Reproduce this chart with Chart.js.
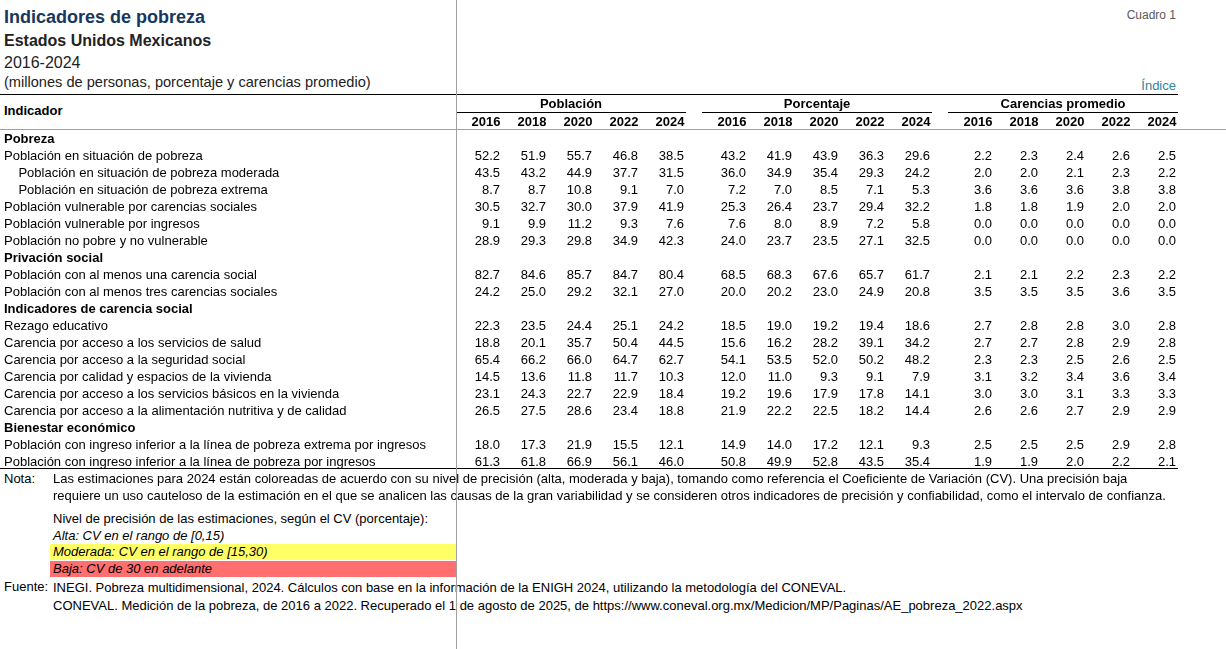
<!DOCTYPE html>
<html><head><meta charset="utf-8">
<script src="https://cdn.jsdelivr.net/npm/chart.js@4.4.1/dist/chart.umd.min.js"></script>
<style>
html,body{margin:0;padding:0;background:#fff;width:1226px;height:649px;overflow:hidden;font-family:"Liberation Sans",Arial,sans-serif;}
.t{position:absolute;white-space:nowrap;line-height:1.2;color:#000;}
.n{font-size:13px;}
.ln{position:absolute;}
canvas{position:absolute;}
</style></head><body>

<div class="t" style="left:4px;top:7px;font-size:18px;font-weight:bold;color:#17375e;">Indicadores de pobreza</div>
<div class="t" style="left:4px;top:30.5px;font-size:16px;font-weight:bold;color:#222;">Estados Unidos Mexicanos</div>
<div class="t" style="left:4px;top:53px;font-size:16px;color:#222;">2016-2024</div>
<div class="t" style="left:4px;top:73.8px;font-size:14.6px;color:#222;">(millones de personas, porcentaje y carencias promedio)</div>
<div class="t" style="right:50px;top:8px;font-size:12px;color:#595959;">Cuadro 1</div>
<div class="t" style="right:50px;top:77.7px;font-size:13px;color:#31849b;">Índice</div>
<div class="t" style="left:4px;top:103.4px;font-size:13px;font-weight:bold;">Indicador</div>

<canvas id="pA" width="686" height="375" style="left:0;top:96px;width:686px;height:375px;"></canvas>
<canvas id="pB" width="230" height="375" style="left:702px;top:96px;width:230px;height:375px;"></canvas>
<canvas id="pC" width="230" height="375" style="left:948px;top:96px;width:230px;height:375px;"></canvas>

<div class="ln" style="left:0;top:94px;width:1178px;height:1px;background:#000;"></div>
<div class="ln" style="left:0;top:129px;width:1226px;height:1px;background:#a0a0a0;"></div>
<div class="ln" style="left:0;top:468px;width:1178px;height:1px;background:#000;"></div>

<div class="ln" style="left:50px;top:544px;width:406px;height:16px;background:#ffff66;"></div>
<div class="ln" style="left:50px;top:561px;width:406px;height:16px;background:#ff6f6f;"></div>

<div class="t n" style="left:4px;top:471.4px;">Nota:</div>
<div class="t n" style="left:53px;top:471.4px;">Las estimaciones para 2024 están coloreadas de acuerdo con su nivel de precisión (alta, moderada y baja), tomando como referencia el Coeficiente de Variación (CV). Una precisión baja</div>
<div class="t n" style="left:53px;top:488.4px;">requiere un uso cauteloso de la estimación en el que se analicen las causas de la gran variabilidad y se consideren otros indicadores de precisión y confiabilidad, como el intervalo de confianza.</div>
<div class="t n" style="left:53px;top:511.4px;">Nivel de precisión de las estimaciones, según el CV (porcentaje):</div>
<div class="t n" style="left:53px;top:528.4px;font-style:italic;">Alta: CV en el rango de [0,15)</div>
<div class="t n" style="left:53px;top:544.4px;font-style:italic;">Moderada: CV en el rango de [15,30)</div>
<div class="t n" style="left:53px;top:561.4px;font-style:italic;">Baja: CV de 30 en adelante</div>
<div class="t n" style="left:4px;top:579.4px;">Fuente:</div>
<div class="t n" style="left:53px;top:580.4px;">INEGI. Pobreza multidimensional, 2024. Cálculos con base en la información de la ENIGH 2024, utilizando la metodología del CONEVAL.</div>
<div class="t n" style="left:53px;top:598.4px;">CONEVAL. Medición de la pobreza, de 2016 a 2022. Recuperado el 1 de agosto de 2025, de https://www.coneval.org.mx/Medicion/MP/Paginas/AE_pobreza_2022.aspx</div>

<div class="ln" style="left:456px;top:0;width:1px;height:649px;background:#a0a0a0;"></div>

<script>
const FONT = '"Liberation Sans", Arial, sans-serif';

const years = ['2016', '2018', '2020', '2022', '2024'];
const groupTitles = ['Población', 'Porcentaje', 'Carencias promedio'];

const rowLabels = [
  'Pobreza',
  'Población en situación de pobreza',
  'Población en situación de pobreza moderada',
  'Población en situación de pobreza extrema',
  'Población vulnerable por carencias sociales',
  'Población vulnerable por ingresos',
  'Población no pobre y no vulnerable',
  'Privación social',
  'Población con al menos una carencia social',
  'Población con al menos tres carencias sociales',
  'Indicadores de carencia social',
  'Rezago educativo',
  'Carencia por acceso a los servicios de salud',
  'Carencia por acceso a la seguridad social',
  'Carencia por calidad y espacios de la vivienda',
  'Carencia por acceso a los servicios básicos en la vivienda',
  'Carencia por acceso a la alimentación nutritiva y de calidad',
  'Bienestar económico',
  'Población con ingreso inferior a la línea de pobreza extrema por ingresos',
  'Población con ingreso inferior a la línea de pobreza por ingresos'
];
const sectionLabels = ['Pobreza', 'Privación social', 'Indicadores de carencia social', 'Bienestar económico'];
const indentedLabels = ['Población en situación de pobreza moderada', 'Población en situación de pobreza extrema'];
const indicators = rowLabels.filter(l => !sectionLabels.includes(l));

// Población (millones de personas)
const pob2016 = [52.2, 43.5, 8.7, 30.5, 9.1, 28.9, 82.7, 24.2, 22.3, 18.8, 65.4, 14.5, 23.1, 26.5, 18.0, 61.3];
const pob2018 = [51.9, 43.2, 8.7, 32.7, 9.9, 29.3, 84.6, 25.0, 23.5, 20.1, 66.2, 13.6, 24.3, 27.5, 17.3, 61.8];
const pob2020 = [55.7, 44.9, 10.8, 30.0, 11.2, 29.8, 85.7, 29.2, 24.4, 35.7, 66.0, 11.8, 22.7, 28.6, 21.9, 66.9];
const pob2022 = [46.8, 37.7, 9.1, 37.9, 9.3, 34.9, 84.7, 32.1, 25.1, 50.4, 64.7, 11.7, 22.9, 23.4, 15.5, 56.1];
const pob2024 = [38.5, 31.5, 7.0, 41.9, 7.6, 42.3, 80.4, 27.0, 24.2, 44.5, 62.7, 10.3, 18.4, 18.8, 12.1, 46.0];
// Porcentaje
const pct2016 = [43.2, 36.0, 7.2, 25.3, 7.6, 24.0, 68.5, 20.0, 18.5, 15.6, 54.1, 12.0, 19.2, 21.9, 14.9, 50.8];
const pct2018 = [41.9, 34.9, 7.0, 26.4, 8.0, 23.7, 68.3, 20.2, 19.0, 16.2, 53.5, 11.0, 19.6, 22.2, 14.0, 49.9];
const pct2020 = [43.9, 35.4, 8.5, 23.7, 8.9, 23.5, 67.6, 23.0, 19.2, 28.2, 52.0, 9.3, 17.9, 22.5, 17.2, 52.8];
const pct2022 = [36.3, 29.3, 7.1, 29.4, 7.2, 27.1, 65.7, 24.9, 19.4, 39.1, 50.2, 9.1, 17.8, 18.2, 12.1, 43.5];
const pct2024 = [29.6, 24.2, 5.3, 32.2, 5.8, 32.5, 61.7, 20.8, 18.6, 34.2, 48.2, 7.9, 14.1, 14.4, 9.3, 35.4];
// Carencias promedio
const car2016 = [2.2, 2.0, 3.6, 1.8, 0.0, 0.0, 2.1, 3.5, 2.7, 2.7, 2.3, 3.1, 3.0, 2.6, 2.5, 1.9];
const car2018 = [2.3, 2.0, 3.6, 1.8, 0.0, 0.0, 2.1, 3.5, 2.8, 2.7, 2.3, 3.2, 3.0, 2.6, 2.5, 1.9];
const car2020 = [2.4, 2.1, 3.6, 1.9, 0.0, 0.0, 2.2, 3.5, 2.8, 2.8, 2.5, 3.4, 3.1, 2.7, 2.5, 2.0];
const car2022 = [2.6, 2.3, 3.8, 2.0, 0.0, 0.0, 2.3, 3.6, 3.0, 2.9, 2.6, 3.6, 3.3, 2.9, 2.9, 2.2];
const car2024 = [2.5, 2.2, 3.8, 2.0, 0.0, 0.0, 2.2, 3.5, 2.8, 2.8, 2.5, 3.4, 3.3, 2.9, 2.8, 2.1];

const cellText = {
  id: 'cellText',
  afterDatasetsDraw(chart) {
    const ctx = chart.ctx;
    const xs = chart.scales.x;
    const half = xs.width / years.length / 2;
    ctx.save();
    ctx.font = '13px ' + FONT;
    ctx.fillStyle = '#000';
    ctx.textAlign = 'right';
    ctx.textBaseline = 'middle';
    chart.data.datasets.forEach((ds, di) => {
      chart.getDatasetMeta(di).data.forEach((pt, j) => {
        ctx.fillText(ds.data[j].v.toFixed(1), pt.x + half - 2, pt.y);
      });
    });
    ctx.fillRect(xs.left, xs.top + 16, xs.width, 1);
    ctx.restore();
  }
};

function makePanel(id, title, series, showRows) {
  const datasets = series.map((vals, k) => ({
    label: years[k],
    data: indicators.map((name, i) => ({ x: years[k], y: name, v: vals[i] })),
    pointRadius: 0,
    showLine: false
  }));
  return new Chart(document.getElementById(id), {
    type: 'scatter',
    data: { datasets },
    options: {
      responsive: false,
      animation: false,
      events: [],
      devicePixelRatio: 1,
      layout: { padding: { left: showRows ? 4 : 0, right: 0, top: 0, bottom: 0 } },
      plugins: { legend: { display: false }, tooltip: { enabled: false } },
      scales: {
        x: {
          type: 'category', labels: years, position: 'top', offset: true,
          grid: { display: false, drawTicks: false }, border: { display: false },
          ticks: { autoSkip: false, maxRotation: 0, minRotation: 0, padding: 1, labelOffset: 7, color: '#000',
                   font: { family: FONT, size: 13, weight: 'bold' } },
          title: { display: true, text: title, color: '#000',
                   font: { family: FONT, size: 13, weight: 'bold', lineHeight: 1.2 }, padding: { top: 1, bottom: 0 } },
          afterFit: s => { s.height = 35; s.paddingLeft = 0; s.paddingRight = 0; s.paddingTop = 0; s.paddingBottom = 0; }
        },
        y: {
          type: 'category', labels: rowLabels, position: 'left', offset: true, display: showRows,
          grid: { display: false, drawTicks: false }, border: { display: false },
          ticks: {
            autoSkip: false, padding: 0, crossAlign: 'far', color: '#000',
            font: ctx => ({ family: FONT, size: 13, weight: sectionLabels.includes(rowLabels[ctx.index]) ? 'bold' : 'normal' }),
            callback: (v, i) => (indentedLabels.includes(rowLabels[i]) ? '    ' : '') + rowLabels[i]
          },
          afterFit: s => { if (showRows) s.width = 452; s.paddingLeft = 0; s.paddingRight = 0; s.paddingTop = 0; s.paddingBottom = 0; }
        }
      }
    },
    plugins: [cellText]
  });
}

makePanel('pA', groupTitles[0], [pob2016, pob2018, pob2020, pob2022, pob2024], true);
makePanel('pB', groupTitles[1], [pct2016, pct2018, pct2020, pct2022, pct2024], false);
makePanel('pC', groupTitles[2], [car2016, car2018, car2020, car2022, car2024], false);
</script>
</body></html>
